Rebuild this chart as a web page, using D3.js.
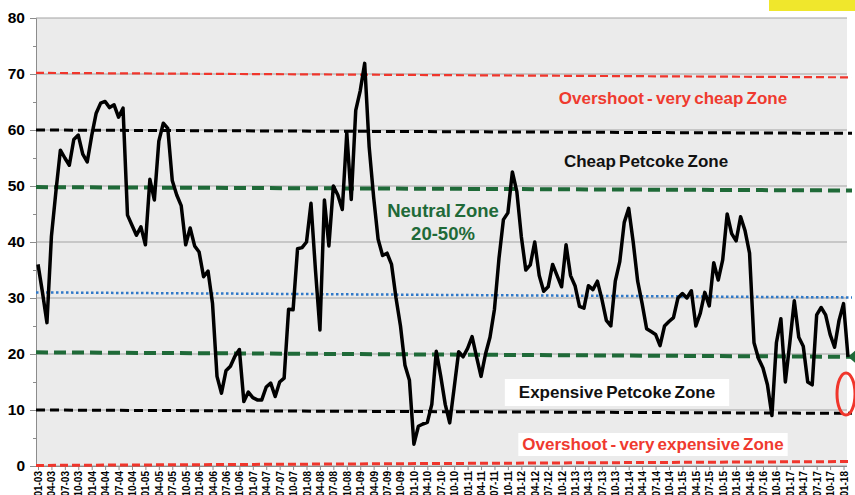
<!DOCTYPE html>
<html>
<head>
<meta charset="utf-8">
<script src="https://cdn.jsdelivr.net/npm/d3@7"></script>
<style>
  body { margin: 0; background: #fff; }
  svg { display: block; font-family: "Liberation Sans", Arial, sans-serif; }
  .grid line { stroke: #a3a3a3; stroke-width: 1; }
  .axis path, .axis line { stroke: #8c8c8c; }
  .axis text { font-weight: bold; fill: #000; }
  .note { font-weight: bold; }
</style>
</head>
<body>
<div id="chart"></div>
<script>
// monthly ratio, Jan 2003 .. Feb 2018
const values = [
  36,31,25.6,41,49,56.4,55,53.7,58.3,59.1,
  55.7,54.3,59,63,64.8,65.1,64,64.5,62.3,63.9,
  44.8,43,41.2,42.7,39.5,51.2,47.5,58,61.2,60.3,
  51,48.4,46.5,39.5,42.5,39.3,38.2,33.8,34.8,29,
  16,13,17,17.8,19.6,20.8,11.5,13.2,12.2,11.8,
  11.8,14.1,14.8,12.4,15,15.7,28,27.9,38.8,39,
  40,46.9,35,24.3,47.5,39.3,50,48.4,45.8,59.5,
  47.6,63.5,67,71.9,57,48,40.5,37.6,38,36,
  30,25,18,15.3,3.9,7.1,7.5,7.8,11,20.5,
  16,11,7.7,14,20.4,19.5,21,23.1,19.5,16,
  20,23,28,37,44,45.2,52.5,49,41,35,
  35.9,40,34,31.2,32,36,34,32,39.5,34,
  32.2,28.5,28.2,32.2,31.5,33,29.8,26,25,33,
  36.5,43.5,46,40,33,29,24.5,24,23.5,21.5,
  25,25.8,26.5,30,30.8,30,31.3,25,27.3,31,
  28.6,36.3,33.2,36.8,45,41.5,40.2,44.5,42,38,
  22,19.2,17.5,14.5,9,22,26.3,15,22,29.5,
  23,21.4,15,14.5,27,28.3,27,23.5,21.2,26,
  29,19.5
];

const tickLabels = [
  "01-03","04-03","07-03","10-03","01-04","04-04","07-04","10-04",
  "01-05","04-05","07-05","10-05","01-06","04-06","07-06","10-06",
  "01-07","04-07","07-07","10-07","01-08","04-08","07-08","10-08",
  "01-09","04-09","07-09","10-09","01-10","04-10","07-10","10-10",
  "01-11","04-11","07-11","10-11","01-12","04-12","07-12","10-12",
  "01-13","04-13","07-13","10-13","01-14","04-14","07-14","10-14",
  "01-15","04-15","07-15","10-15","01-16","04-16","07-16","10-16",
  "01-17","04-17","07-17","10-17","01-18"
];

const yTicks = [0, 10, 20, 30, 40, 50, 60, 70, 80];

// zone boundary lines: value at left edge, value at right edge
const refNames = ["overshootTop", "cheap", "neutralTop", "average", "neutralBottom", "expensive", "overshootBottom"];
const refStart = [70.2, 60, 49.8, 31, 20.3, 10, 0.1];
const refEnd   = [69.4, 59.4, 49.2, 30.1, 19.5, 9.4, 0.8];

const zoneLabels = [
  "Overshoot - very cheap Zone",
  "Cheap Petcoke Zone",
  "Neutral Zone",
  "20-50%",
  "Expensive Petcoke Zone",
  "Overshoot - very  expensive Zone"
];

const W = 855, H = 495;
const plot = { left: 36, right: 847, top: 18, bottom: 466 };

const svg = d3.select("#chart").append("svg")
  .attr("width", W)
  .attr("height", H);

const x = d3.scaleLinear()
  .domain([0, values.length - 1])
  .range([38, 848]);

const y = d3.scaleLinear()
  .domain([0, 80])
  .range([plot.bottom, plot.top]);

// plot background
svg.append("rect")
  .attr("x", plot.left)
  .attr("y", plot.top)
  .attr("width", plot.right - plot.left)
  .attr("height", plot.bottom - plot.top)
  .attr("fill", "#ebebeb");

// gridlines
svg.append("g")
  .attr("class", "grid")
  .selectAll("line")
  .data(yTicks)
  .enter().append("line")
  .attr("x1", plot.left)
  .attr("x2", plot.right)
  .attr("y1", d => y(d))
  .attr("y2", d => y(d));

// y axis
const yAxis = svg.append("g")
  .attr("class", "axis")
  .attr("transform", `translate(${plot.left},0)`)
  .call(d3.axisLeft(y).tickValues(yTicks).tickSize(6).tickPadding(5));
yAxis.selectAll("text").style("font-size", "15.5px");

// minor ticks
svg.append("g")
  .attr("class", "axis")
  .attr("transform", `translate(${plot.left},0)`)
  .call(d3.axisLeft(y).tickValues(d3.range(5, 80, 10)).tickSize(3).tickFormat(""))
  .select(".domain").remove();

// x axis
const xAxis = svg.append("g")
  .attr("class", "axis")
  .attr("transform", `translate(0,${plot.bottom})`)
  .call(d3.axisBottom(x)
    .tickValues(tickLabels.map((d, i) => i * 3))
    .tickFormat((d, i) => tickLabels[i])
    .tickSize(4)
    .tickSizeOuter(0));
xAxis.select(".domain").attr("d", `M${plot.left},0.5H${plot.right}`);
xAxis.selectAll("text")
  .style("font-size", "10px")
  .attr("text-anchor", "end")
  .attr("transform", "rotate(-90)")
  .attr("x", -5)
  .attr("y", 0)
  .attr("dy", "0.35em");

// zone lines
const refStyle = {
  overshootTop:    { stroke: "#f0362c", width: 2.2, dash: "8,4" },
  cheap:           { stroke: "#000",    width: 3,   dash: "9,5" },
  neutralTop:      { stroke: "#1f6a38", width: 4,   dash: "12,6" },
  average:         { stroke: "#2f78c8", width: 2.5, dash: "2.5,2.5" },
  neutralBottom:   { stroke: "#1f6a38", width: 4,   dash: "12,6" },
  expensive:       { stroke: "#000",    width: 3,   dash: "9,5" },
  overshootBottom: { stroke: "#f0362c", width: 3,   dash: "8,4" }
};

svg.append("g")
  .selectAll("line")
  .data(refNames)
  .enter().append("line")
  .attr("x1", plot.left)
  .attr("x2", 852)
  .attr("y1", (d, i) => y(refStart[i]))
  .attr("y2", (d, i) => y(refEnd[i]))
  .attr("stroke", d => refStyle[d].stroke)
  .attr("stroke-width", d => refStyle[d].width)
  .attr("stroke-dasharray", d => refStyle[d].dash);

// arrow at right end of the 20% line
const ay = y(refEnd[4]);
svg.append("path")
  .attr("d", `M848,${ay}L855,${ay - 6}L855,${ay + 6}Z`)
  .attr("fill", "#1f6a38");

// data line
const line = d3.line()
  .x((d, i) => x(i))
  .y(d => y(d));

svg.append("path")
  .datum(values)
  .attr("fill", "none")
  .attr("stroke", "#000")
  .attr("stroke-width", 3.5)
  .attr("stroke-linejoin", "round")
  .attr("d", line);

// zone notes
function note(text, cx, cy, color, size, box) {
  const g = svg.append("g");
  const t = g.append("text")
    .attr("class", "note")
    .attr("x", cx)
    .attr("y", cy)
    .attr("text-anchor", "middle")
    .attr("fill", color)
    .style("font-size", size + "px")
    .style("word-spacing", "-1.5px")
    .text(text);
  if (box) {
    const b = t.node().getBBox();
    g.insert("rect", "text")
      .attr("x", b.x - box[0])
      .attr("y", b.y - box[1])
      .attr("width", b.width + 2 * box[0])
      .attr("height", b.height + 2 * box[1])
      .attr("fill", "#fff");
  }
}

note(zoneLabels[0], 673, 104, "#ef3a2f", 17);
note(zoneLabels[1], 646, 167, "#111", 17);
note(zoneLabels[2], 443, 217, "#1f6a38", 18.5);
note(zoneLabels[3], 443, 240, "#1f6a38", 18.5);
note(zoneLabels[4], 617, 398, "#111", 17, [14, 4]);
note(zoneLabels[5], 653, 450, "#ef3a2f", 17, [4, 2]);

// red highlight ellipse at the last value
svg.append("ellipse")
  .attr("cx", 846)
  .attr("cy", 394)
  .attr("rx", 9)
  .attr("ry", 21)
  .attr("fill", "none")
  .attr("stroke", "#f0362c")
  .attr("stroke-width", 3);

// yellow marker top right
svg.append("rect")
  .attr("x", 769)
  .attr("y", 0)
  .attr("width", 86)
  .attr("height", 11)
  .attr("fill", "#f0e72c");
</script>
</body>
</html>
